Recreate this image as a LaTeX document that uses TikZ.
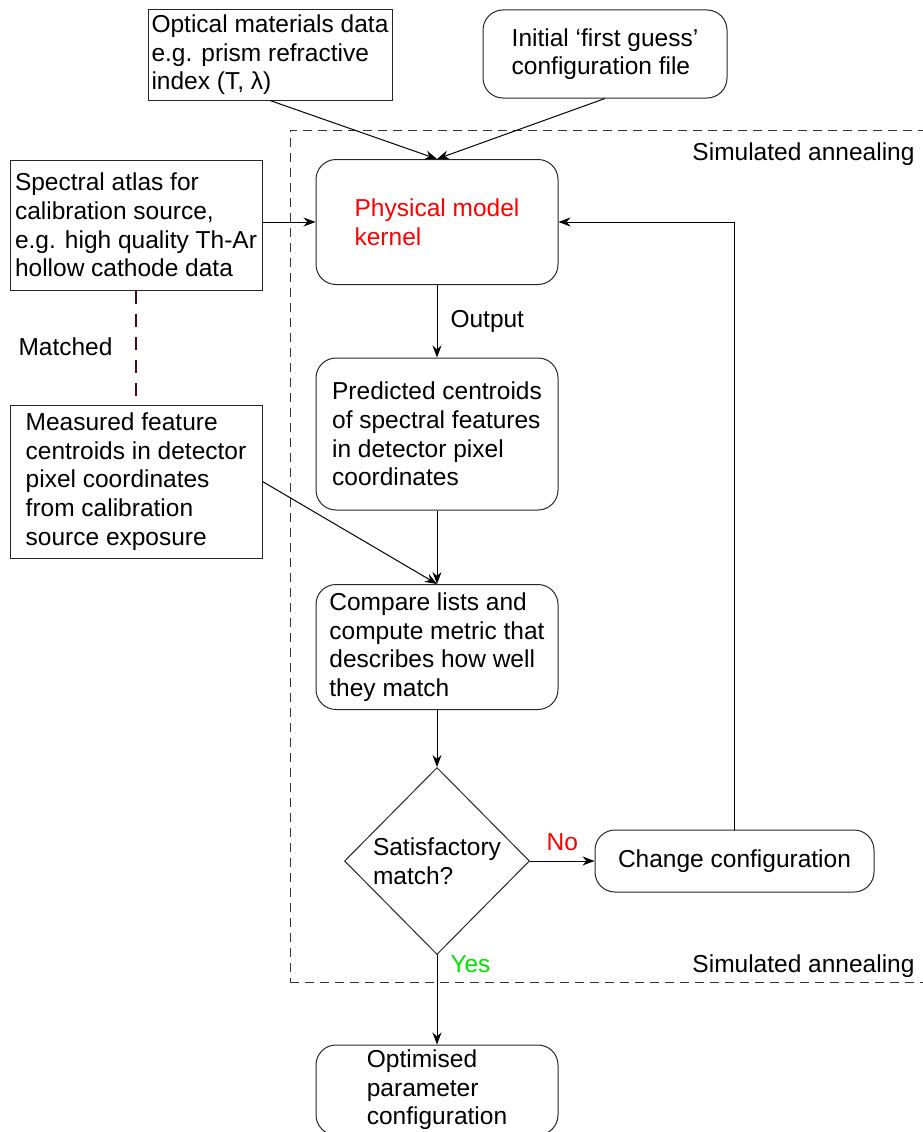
\documentclass[tikz,border=0pt]{standalone}
\usepackage{fontspec}
\setmainfont{Liberation Sans}
\usetikzlibrary{positioning, arrows.meta, shapes.geometric, calc}
\definecolor{kernelred}{RGB}{255,0,0}
\definecolor{yesgreen}{RGB}{0,230,0}
\definecolor{matchred}{RGB}{80,10,20}

\begin{document}
\begin{tikzpicture}[
            x=1pt, y=-1pt,
            >={Stealth[length=12pt, width=9pt]},
            line width=1pt,
            font=\fontsize{24.5}{28.6}\selectfont,
            box/.style={draw=black!85, rectangle, align=left, inner sep=0pt},
            roundbox/.style={box, rounded corners=20pt},
            decision/.style={draw=black!85, diamond, align=left, inner sep=0pt},
            flow/.style={->, draw=black},
            lbl/.style={inner sep=0pt},
        ]
            \useasboundingbox (0,0) rectangle (922,1132);

            % Simulated annealing region
            \node[draw=black!80, dash pattern=on 9pt off 6pt, minimum width=650pt, minimum height=852pt] (anneal) at (615,556) {};
            \node[lbl, anchor=base east] (annealtop) at (915,160) {Simulated annealing};
            \node[lbl, anchor=base east] (annealbot) at (915,972) {Simulated annealing};

            % Draw the inputs
            \node[box, minimum width=244pt, minimum height=90pt] (optical) at (270,55)
                {Optical materials data\\e.g. prism refractive\\index (T, λ)};
            \node[roundbox, minimum width=244pt, minimum height=88pt] (initial) at (605,54)
                {Initial ‘first guess’\\configuration file};
            \node[box, minimum width=252pt, minimum height=130pt] (spectral) at (136,225)
                {Spectral atlas for\\calibration source,\\e.g. high quality Th-Ar\\hollow cathode data};
            \node[box, minimum width=252pt, minimum height=153pt] (measured) at (136,481.5)
                {Measured feature\\centroids in detector\\pixel coordinates\\from calibration\\source exposure};

            % Draw the main chain
            \node[roundbox, minimum width=242pt, minimum height=125pt, text=kernelred] (kernel) at (437,222)
                {Physical model\\kernel};
            \node[roundbox, minimum width=242pt, minimum height=152pt] (predicted) at (437,434)
                {Predicted centroids\\of spectral features\\in detector pixel\\coordinates};
            \node[roundbox, minimum width=242pt, minimum height=125pt] (compare) at (437,647)
                {Compare lists and\\compute metric that\\describes how well\\they match};
            \node[decision, minimum width=185pt, minimum height=187pt] (match) at (437,861)
                {Satisfactory\\match?};
            \node[roundbox, minimum width=279pt, minimum height=62pt] (change) at (734.5,861)
                {Change configuration};
            \node[roundbox, minimum width=242pt, minimum height=90pt] (optimised) at (437,1090)
                {Optimised\\parameter\\configuration};
            \node[lbl, anchor=base west] (matchedlbl) at (18,355) {Matched};

            % Connect the boxes
            \draw[flow] (optical.south) -- (kernel.north);
            \draw[flow] (initial.south) -- (kernel.north);
            \draw[flow] (spectral.east |- kernel.west) -- (kernel.west);
            \draw[matchred, line width=2pt, dash pattern=on 13pt off 10pt] (spectral.south) -- (measured.north);
            \draw[flow] (kernel.south) -- node[lbl, anchor=west, xshift=13pt] {Output} (predicted.north);
            \draw[flow] (predicted.south) -- (compare.north);
            \draw[flow] (measured.east) -- (compare.north);
            \draw[flow] (compare.south) -- (match.north);
            \draw[flow] (match.east) -- node[lbl, above=10pt, text=kernelred] {No} (change.west);
            \draw[flow] (change.north) |- (kernel.east);
            \draw[flow] (match.south) -- node[lbl, pos=0, anchor=north west, xshift=13pt, text=yesgreen] {Yes} (optimised.north);
        \end{tikzpicture}
\end{document}
